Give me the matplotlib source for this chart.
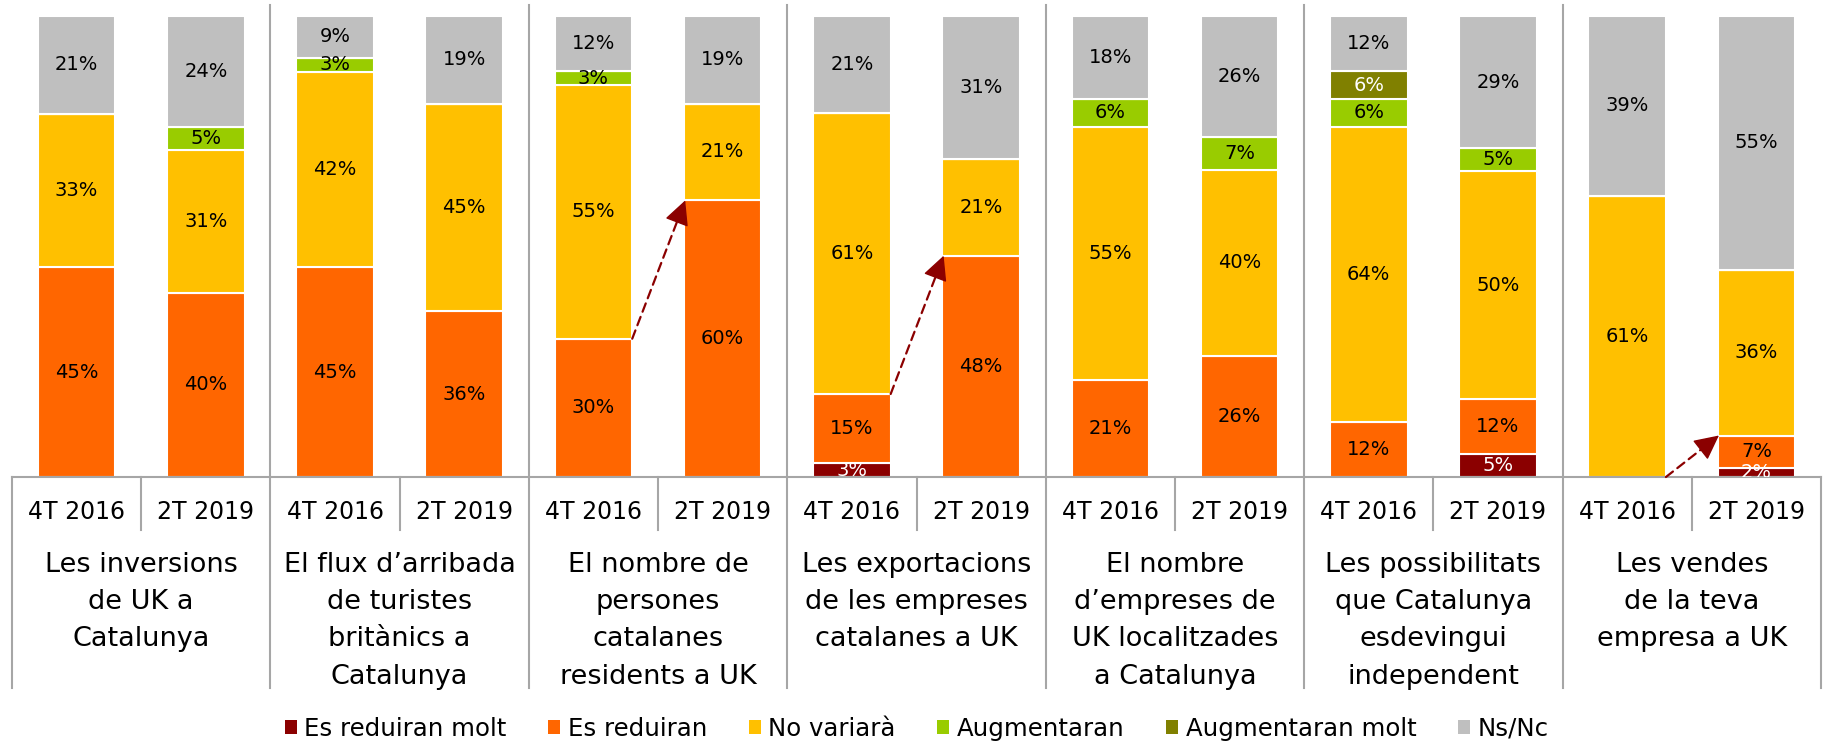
import numpy as np
import matplotlib.pyplot as plt
import matplotlib.transforms as mtransforms
from matplotlib.patches import Patch

# Dades (percentatges llegits del gràfic)
periodes = ['4T 2016', '2T 2019']
categories = [
    'Les inversions\nde UK a\nCatalunya',
    'El flux d’arribada\nde turistes\nbritànics a\nCatalunya',
    'El nombre de\npersones\ncatalanes\nresidents a UK',
    'Les exportacions\nde les empreses\ncatalanes a UK',
    'El nombre\nd’empreses de\nUK localitzades\na Catalunya',
    'Les possibilitats\nque Catalunya\nesdevingui\nindependent',
    'Les vendes\nde la teva\nempresa a UK',
]

# una posició per barra: (cat1 4T, cat1 2T, cat2 4T, ...)
reduiran_molt = [0, 0, 0, 0, 0, 0, 3, 0, 0, 0, 0, 5, 0, 2]
reduiran = [45, 40, 45, 36, 30, 60, 15, 48, 21, 26, 12, 12, 0, 7]
no_variara = [33, 31, 42, 45, 55, 21, 61, 21, 55, 40, 64, 50, 61, 36]
augmentaran = [0, 5, 3, 0, 3, 0, 0, 0, 6, 7, 6, 5, 0, 0]
augmentaran_molt = [0, 0, 0, 0, 0, 0, 0, 0, 0, 0, 6, 0, 0, 0]
ns_nc = [21, 24, 9, 19, 12, 19, 21, 31, 18, 26, 12, 29, 39, 55]

series = [
    ('Es reduiran molt', reduiran_molt, '#8B0000', 'white'),
    ('Es reduiran', reduiran, '#FF6600', 'black'),
    ('No variarà', no_variara, '#FFC000', 'black'),
    ('Augmentaran', augmentaran, '#99CC00', 'black'),
    ('Augmentaran molt', augmentaran_molt, '#808000', 'white'),
    ('Ns/Nc', ns_nc, '#BFBFBF', 'black'),
]

# fletxes: (barra origen, valor origen, barra destí, valor destí)
fletxes = [(4, 30, 5, 60), (6, 18, 7, 48), (12, 0, 13, 9)]

plt.rcParams['font.family'] = ['DejaVu Sans']

fig = plt.figure(figsize=(18.26, 7.44), dpi=100)
ax = fig.add_axes([12 / 1826, 1 - 477 / 744, 1809 / 1826, 461 / 744])

n = len(reduiran)
x = np.arange(n) + 0.5
amplada = 0.6
totals = np.sum([s[1] for s in series], axis=0)

bottom = np.zeros(n)
for nom, vals, color, tcolor in series:
    vals = np.array(vals, dtype=float)
    h = vals / totals * 100
    ax.bar(x, h, amplada, bottom=bottom, color=color, edgecolor='white', linewidth=1.5)
    for xi, b, hi, v in zip(x, bottom, h, vals):
        if v > 0:
            ax.text(xi, b + hi / 2, f'{int(v)}%', ha='center', va='center',
                    fontsize=14, color=tcolor, clip_on=True)
    bottom += h

# fletxes discontínues (línia discontínua + punta sòlida)
vermell = '#8B0000'
for i0, v0, i1, v1 in fletxes:
    x0, x1 = x[i0] + amplada / 2, x[i1] - amplada / 2 + 0.01
    ax.annotate('', xy=(x1, v1), xytext=(x0, v0),
                arrowprops=dict(arrowstyle='-', linestyle=(0, (4, 2.5)), lw=1.6,
                                color=vermell, shrinkA=0, shrinkB=10),
                annotation_clip=False)
    xm, vm = x0 + 0.9 * (x1 - x0), v0 + 0.9 * (v1 - v0)
    ax.annotate('', xy=(x1, v1), xytext=(xm, vm),
                arrowprops=dict(arrowstyle='-|>,head_length=0.7,head_width=0.35',
                                lw=1.0, color=vermell, mutation_scale=22,
                                shrinkA=0, shrinkB=0),
                annotation_clip=False)

ax.set_xlim(0, n)
ax.set_ylim(0, 100)
ax.axis('off')

# eix de categories en dos nivells
trans = mtransforms.blended_transform_factory(ax.transData, ax.transAxes)
gris = '#A6A6A6'
fons = -0.4577
ax.plot([0, n], [0, 0], color=gris, lw=1.5, transform=trans, clip_on=False)
for k in range(0, n + 1, 2):
    top = 1.024 if 0 < k < n else 0
    ax.plot([k, k], [fons, top], color=gris, lw=1.5, transform=trans, clip_on=False)
for k in range(1, n, 2):
    ax.plot([k, k], [0, -0.115], color=gris, lw=1.5, transform=trans, clip_on=False)

for k in range(n):
    ax.text(x[k], -0.076, periodes[k % 2], transform=trans, ha='center', va='center',
            fontsize=17)
for g, cat in enumerate(categories):
    ax.text(2 * g + 1, -0.162, cat, transform=trans, ha='center', va='top',
            fontsize=19.5, linespacing=1.57)

handles = [Patch(facecolor=s[2], edgecolor='none') for s in series]
fig.legend(handles, [s[0] for s in series], loc='center', bbox_to_anchor=(0.502, 1 - 729 / 744),
           ncol=6, frameon=False, fontsize=17.6, handlelength=0.5, handleheight=0.5,
           handletextpad=0.3, columnspacing=1.7)

fig.savefig('out.png', dpi=100)
